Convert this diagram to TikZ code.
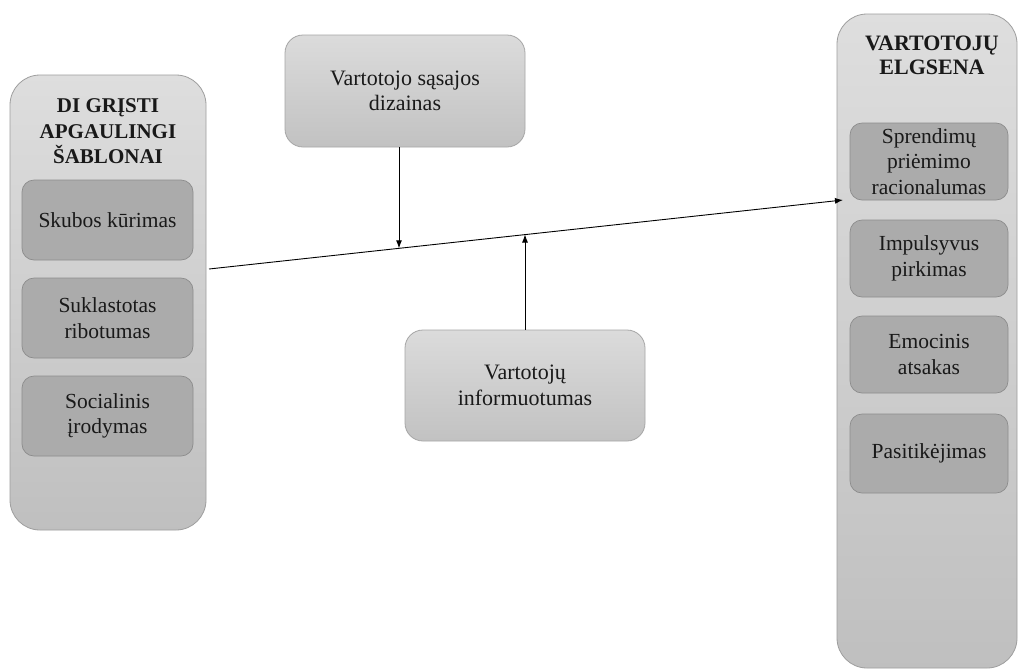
\documentclass[tikz,border=0pt]{standalone}
\usepackage{fontspec}
\setmainfont{Liberation Serif}
\usetikzlibrary{arrows.meta}
\begin{document}
\begin{tikzpicture}[x=1pt,y=-1pt,
  panel/.style={draw=black!38, line width=0.8pt, rounded corners=30pt,
    top color=black!13, bottom color=black!25, inner sep=0pt},
  item/.style={draw=black!45, line width=0.7pt, rounded corners=12pt,
    fill=black!33, inner sep=0pt, align=center, text=black!90,
    font=\fontsize{21.5}{25.5}\selectfont},
  factor/.style={draw=black!35, line width=0.8pt, rounded corners=18pt,
    top color=black!14, bottom color=black!24, inner sep=0pt, align=center,
    text=black!90, font=\fontsize{22}{25.5}\selectfont,
    minimum width=240pt},
  ptitle/.style={align=center, text=black!90, inner sep=0pt,
    font=\bfseries\fontsize{21}{25.5}\selectfont},
  conn/.style={draw=black, line width=0.9pt, -{Latex[length=8pt,width=6pt]}}
]
\useasboundingbox (0,0) rectangle (1024,670);
\fill[white] (0,0) rectangle (1024,670);

% left panel
\node[panel, minimum width=196pt, minimum height=455pt] (lp) at (108,302.5) {};
\node[ptitle] (lt) at (108,131.5) {DI GRĮSTI\\APGAULINGI\\ŠABLONAI};
\node[item, minimum width=171pt, minimum height=80pt] (l1) at (107.5,220) {Skubos kūrimas};
\node[item, minimum width=171pt, minimum height=80pt] (l2) at (107.5,318) {Suklastotas\\ribotumas};
\node[item, minimum width=171pt, minimum height=80pt] (l3) at (107.5,416) {Socialinis\\įrodymas};

% right panel
\node[panel, minimum width=180pt, minimum height=654pt] (rp) at (927,341) {};
\node[ptitle, font=\bfseries\fontsize{22}{23.5}\selectfont] (rt) at (932,55.5) {VARTOTOJŲ\\ELGSENA};
\node[item, minimum width=158pt, minimum height=77pt] (r1) at (929,161.5) {Sprendimų\\priėmimo\\racionalumas};
\node[item, minimum width=158pt, minimum height=77pt] (r2) at (929,258.5) {Impulsyvus\\pirkimas};
\node[item, minimum width=158pt, minimum height=77pt] (r3) at (929,354.5) {Emocinis\\atsakas};
\node[item, minimum width=158pt, minimum height=79pt] (r4) at (929,453.5) {Pasitikėjimas};

% moderators
\node[factor, minimum height=112pt] (top) at (405,91) {Vartotojo sąsajos\\dizainas};
\node[factor, minimum height=111pt] (bot) at (525,385.5) {Vartotojų\\informuotumas};

% main connector
\coordinate (ls) at (209,269);
\coordinate (re) at (843,200);
\coordinate (m1) at (399,248.3);
\coordinate (m2) at (525,234.5);
\draw[conn] (ls) -- (re);
\draw[conn] (top.south -| m1) -- (m1);
\draw[conn] (bot.north) -- (m2);
\end{tikzpicture}
\end{document}
